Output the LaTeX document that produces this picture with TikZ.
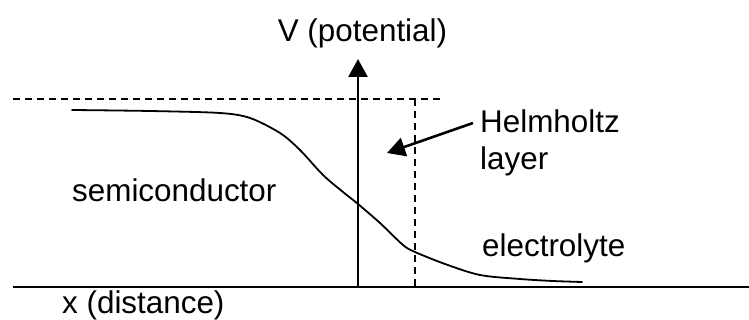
\documentclass[tikz,border=0pt]{standalone}
\usepackage{fontspec}
\setmainfont{Liberation Sans}
\usetikzlibrary{arrows.meta,positioning}
\tikzset{
  axisline/.style={line width=2.6pt, color=black},
  guideline/.style={dash pattern=on 7pt off 5pt, line width=1.8pt},
  curveline/.style={line width=1.8pt, line join=round, line cap=round},
  labeltext/.style={font=\fontsize{31.4}{37.7}\selectfont, inner sep=0pt,
    anchor=base west, align=left},
  pointer/.style={-{Triangle[length=18pt,width=19pt]}, line width=2.6pt},
}

\begin{document}
\begin{tikzpicture}[x=1pt, y=-1pt]
  \useasboundingbox (0,0) rectangle (749,320);

  % axes
  \coordinate (xleft) at (13,287);
  \coordinate (xright) at (749,287);
  \coordinate (vbase) at (358,287);
  \coordinate (vtop) at (358,59);
  \draw[axisline] (xleft) -- (xright);
  \draw[pointer] (vbase) -- (vtop);

  % bulk level and Helmholtz boundary
  \coordinate (bulkl) at (13,99);
  \coordinate (bulkr) at (440,99);
  \coordinate (hhtop) at (415,99);
  \coordinate (hhbot) at (415,287);
  \draw[guideline] (bulkl) -- (bulkr);
  \draw[guideline] (hhtop) -- (hhbot);

  % potential profile
  \draw[curveline] plot[smooth, tension=0.5] coordinates {
    (72,110) (150,111) (220,113) (250,118) (280,133) (300,150)
    (323,175) (343,192) (358,204) (380,223) (403,245) (415,252)
    (445,264) (480,275) (520,279) (553,281) (582,282)};

  % labels
  \node[labeltext, anchor=base] (vlab) at (362.5,41.7) {V (potential)};
  \node[labeltext] (xlab) at (62,313) {x (distance)};
  \node[labeltext] (semi) at (72,201.7) {semiconductor};
  \node[labeltext] (elec) at (482,256.7) {electrolyte};
  \node[labeltext] (helm) at (480,170) {Helmholtz\\layer};
  \coordinate (helmtip) at (387,153);
  \draw[pointer] (helm.west |- 0,123) ++(-7,0) coordinate (helmfrom) -- (helmtip);
\end{tikzpicture}
\end{document}
